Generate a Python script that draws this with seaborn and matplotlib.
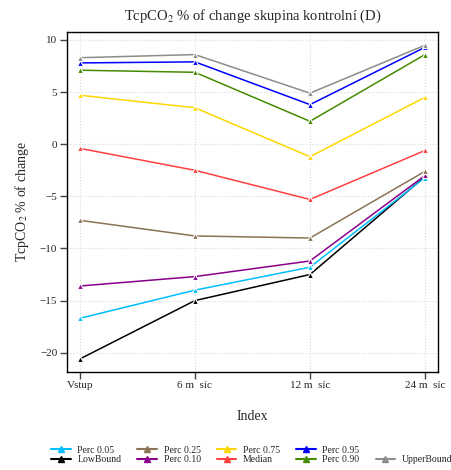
import numpy as np
import pandas as pd
import matplotlib
matplotlib.use("Agg")
import matplotlib.pyplot as plt
import seaborn as sns
from matplotlib.lines import Line2D

# Data
times = ["Vstup", "6 m  síc", "12 m  síc", "24 m  síc"]
low_bound = [-20.6, -15.0, -12.5, -3.1]
perc_05 = [-16.7, -14.0, -11.8, -3.2]
perc_10 = [-13.6, -12.7, -11.2, -3.0]
perc_25 = [-7.3, -8.8, -9.0, -2.6]
median = [-0.4, -2.5, -5.3, -0.6]
perc_75 = [4.7, 3.5, -1.2, 4.5]
perc_90 = [7.1, 6.9, 2.2, 8.6]
perc_95 = [7.8, 7.9, 3.8, 9.3]
upper_bound = [8.3, 8.6, 4.9, 9.5]

series = {
    "LowBound": low_bound,
    "Perc 0.05": perc_05,
    "Perc 0.10": perc_10,
    "Perc 0.25": perc_25,
    "Median": median,
    "Perc 0.75": perc_75,
    "Perc 0.90": perc_90,
    "Perc 0.95": perc_95,
    "UpperBound": upper_bound,
}
colors = {
    "LowBound": "#000000",
    "Perc 0.05": "#00BFFF",
    "Perc 0.10": "#8B008B",
    "Perc 0.25": "#8B7355",
    "Median": "#FF4040",
    "Perc 0.75": "#FFD700",
    "Perc 0.90": "#458B00",
    "Perc 0.95": "#0000FF",
    "UpperBound": "#8C8C8C",
}

rows = []
for name, vals in series.items():
    for i, v in enumerate(vals):
        rows.append({"series": name, "idx": i + 1, "value": v})
df = pd.DataFrame(rows)

sns.set_style("white")
plt.rcParams["font.family"] = ["Liberation Serif", "DejaVu Serif"]
plt.rcParams["mathtext.fontset"] = "stix"

fig = plt.figure(figsize=(4.52, 4.70), dpi=100)
ax = fig.add_axes([0.148, 0.209, 0.821, 0.723])

sns.lineplot(data=df, x="idx", y="value", hue="series", palette=colors,
             marker="^", markersize=5, markeredgecolor="white", markeredgewidth=0.8,
             linewidth=1.1, legend=False, ax=ax, zorder=3)

ax.set_xlim(0.887, 4.113)
ax.set_ylim(-21.83, 10.77)
ax.set_xticks([1, 2, 3, 4])
ax.set_xticklabels(times)
ax.set_yticks([10, 5, 0, -5, -10, -15, -20])
ax.set_yticklabels(["10", "5", "0", "\u22125", "\u221210", "\u221215", "\u221220"])
ax.grid(True, color="#D9D9D9", linestyle=":", linewidth=0.8)
for s in ax.spines.values():
    s.set_color("black")
    s.set_linewidth(1.0)
ax.tick_params(axis="both", direction="out", length=5, width=1, color="#444444",
               labelsize=8, bottom=True, left=True, pad=2)

ax.set_title("TcpCO$_2$ % of change skupina kontrolní (D)", fontsize=10.5, pad=9)
ax.set_xlabel("Index", fontsize=10, labelpad=14)
ax.set_ylabel("TcpCO$_2$ % of change", fontsize=10, labelpad=6)

order = ["Perc 0.05", "LowBound", "Perc 0.25", "Perc 0.10", "Perc 0.75", "Median",
         "Perc 0.95", "Perc 0.90", None, "UpperBound"]
handles, labels = [], []
for name in order:
    if name is None:
        handles.append(Line2D([], [], linestyle="none"))
        labels.append("")
    else:
        handles.append(Line2D([], [], color=colors[name], marker="^", markersize=4, linewidth=1.5))
        labels.append(name)
fig.legend(handles, labels, ncol=5, loc="lower center", bbox_to_anchor=(0.557, -0.006),
           frameon=False, fontsize=7, handlelength=2.0, handletextpad=0.7,
           columnspacing=1.65, labelspacing=0.05)

fig.savefig("out.png", dpi=100)
